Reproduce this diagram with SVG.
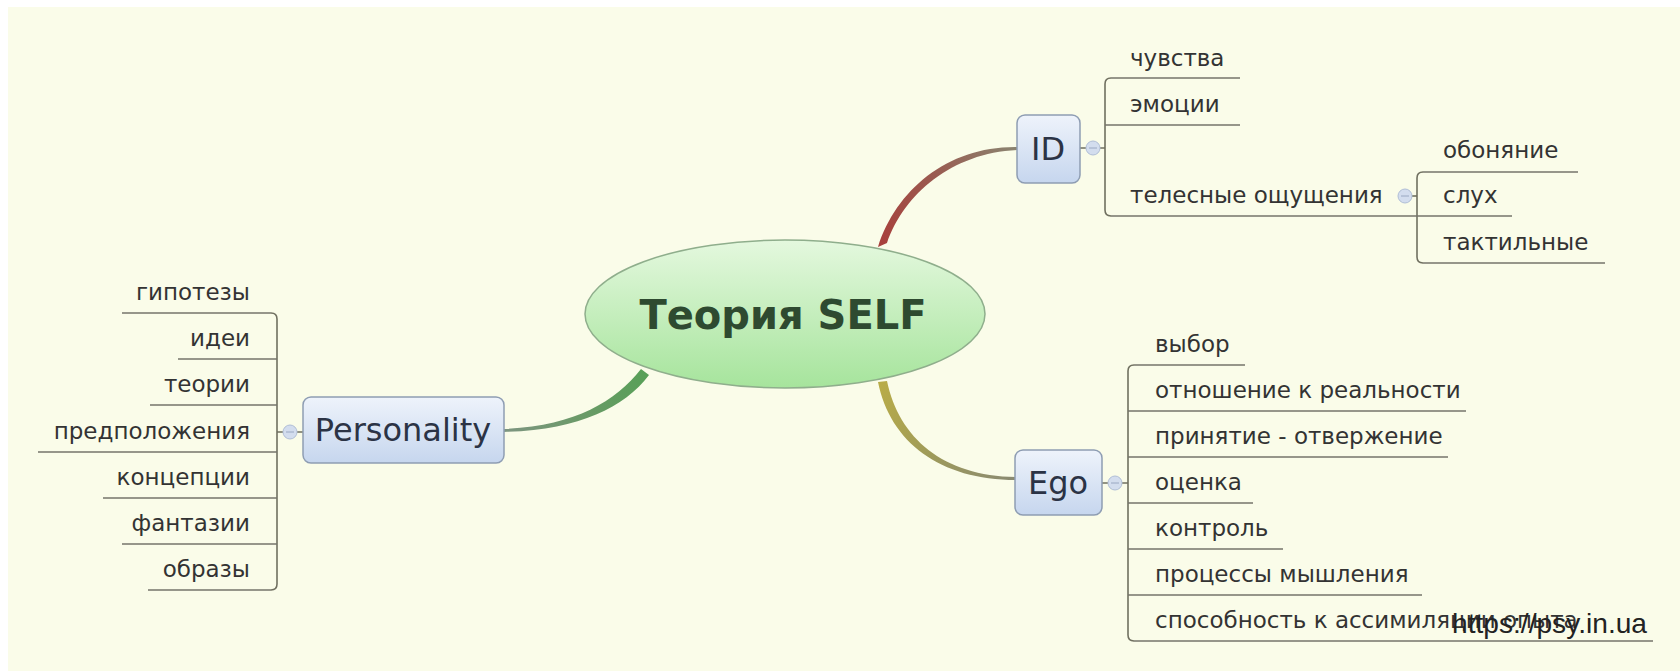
<svg xmlns="http://www.w3.org/2000/svg" width="1680" height="671" viewBox="0 0 1680 671">
<defs>
<linearGradient id="gBlue" x1="0" y1="0" x2="0" y2="1">
<stop offset="0" stop-color="#eef3fb"/>
<stop offset="1" stop-color="#c6d6ee"/>
</linearGradient>
<linearGradient id="gGreen" x1="0" y1="0" x2="0" y2="1">
<stop offset="0" stop-color="#e4f8de"/>
<stop offset="1" stop-color="#a6e49c"/>
</linearGradient>
<linearGradient id="gRed" gradientUnits="userSpaceOnUse" x1="882" y1="245" x2="1017" y2="148">
<stop offset="0" stop-color="#a8403c"/>
<stop offset="0.5" stop-color="#9a5a50"/>
<stop offset="1" stop-color="#8a8470"/>
</linearGradient>
<linearGradient id="gOlive" gradientUnits="userSpaceOnUse" x1="882" y1="383" x2="1016" y2="478">
<stop offset="0" stop-color="#b8ac48"/>
<stop offset="0.5" stop-color="#9e9a5a"/>
<stop offset="1" stop-color="#8a8a72"/>
</linearGradient>
<linearGradient id="gGreenC" gradientUnits="userSpaceOnUse" x1="645" y1="372" x2="504" y2="430">
<stop offset="0" stop-color="#58a058"/>
<stop offset="0.5" stop-color="#6a9a68"/>
<stop offset="1" stop-color="#7d9580"/>
</linearGradient>
</defs>
<style>
.t{font-family:"DejaVu Sans",sans-serif;font-size:23px;fill:#333333}
.te{text-anchor:end}
.box{fill:url(#gBlue);stroke:#8e9db3;stroke-width:1.5}
.nt{font-family:"DejaVu Sans",sans-serif;font-size:32px;fill:#2b3345;text-anchor:middle}
.br{fill:none;stroke:#707060;stroke-width:1.6}
.ul{fill:none;stroke:#74746a;stroke-width:1.6}
.col{fill:#d3ddee;stroke:#b0bed6;stroke-width:1}
.colm{stroke:#9aa8c2;stroke-width:1}
</style>
<rect x="0" y="0" width="1680" height="671" fill="#ffffff"/>
<rect x="8" y="7" width="1672" height="664" fill="#fafce9"/>

<g id="connectors">
<path d="M878,247 C896,190 948,146 1017,147 L1017,150 C952,153 904,194 887,243 Z" fill="url(#gRed)"/>
<path d="M878,382 C890,442 940,480 1016,480 L1016,477 C943,476 899,438 887,381 Z" fill="url(#gOlive)"/>
<path d="M641,369 C615,402 574,426 504,429 L504,432 C578,430 624,408 649,375 Z" fill="url(#gGreenC)"/>
<!-- ID bracket -->
<path class="br" d="M1080,148 H1086 M1100,148 H1105"/>
<path class="br" d="M1111,78 Q1105,78 1105,84 V210 Q1105,216 1111,216"/>
<!-- sub bracket -->
<path class="br" d="M1412,196 H1417"/>
<path class="br" d="M1423,172 Q1417,172 1417,178 V257 Q1417,263 1423,263"/>
<!-- Ego bracket -->
<path class="br" d="M1102,483 H1108 M1122,483 H1128"/>
<path class="br" d="M1134,365 Q1128,365 1128,371 V635 Q1128,641 1134,641"/>
<!-- Personality bracket -->
<path class="br" d="M303,432 H297 M283,432 H277"/>
<path class="br" d="M271,313 Q277,313 277,319 V584 Q277,590 271,590"/>
</g>

<g id="center">
<ellipse cx="785" cy="314" rx="200" ry="74" fill="url(#gGreen)" stroke="#8fae8c" stroke-width="1.5"/>
<text x="783" y="329" text-anchor="middle" font-family="DejaVu Sans, sans-serif" font-weight="bold" font-size="40" fill="#2e4a30">Теория SELF</text>
</g>

<g id="node-id">
<rect class="box" x="1017" y="115" width="63" height="68" rx="8"/>
<text class="nt" x="1048" y="160">ID</text>
<circle class="col" cx="1093" cy="148" r="7"/>
<path class="colm" d="M1089,148 H1097"/>
</g>

<g id="node-ego">
<rect class="box" x="1015" y="450" width="87" height="65" rx="8"/>
<text class="nt" x="1058" y="494">Ego</text>
<circle class="col" cx="1115" cy="483" r="7"/>
<path class="colm" d="M1111,483 H1119"/>
</g>

<g id="node-personality">
<rect class="box" x="303" y="397" width="201" height="66" rx="8"/>
<text class="nt" x="403" y="441" font-size="30">Personality</text>
<circle class="col" cx="290" cy="432" r="7"/>
<path class="colm" d="M286,432 H294"/>
</g>

<!-- ID children -->
<g id="id-chuvstva"><text class="t" x="1130" y="66">чувства</text><path class="ul" d="M1111,78 H1240"/></g>
<g id="id-emocii"><text class="t" x="1130" y="112">эмоции</text><path class="ul" d="M1105,125 H1240"/></g>
<g id="id-telesnye"><text class="t" x="1130" y="203">телесные ощущения</text><path class="ul" d="M1111,216 H1512"/>
<circle class="col" cx="1405" cy="196" r="7"/><path class="colm" d="M1401,196 H1409"/></g>
<g id="sub-obonyanie"><text class="t" x="1443" y="158">обоняние</text><path class="ul" d="M1423,172 H1578"/></g>
<g id="sub-sluh"><text class="t" x="1443" y="203">слух</text></g>
<g id="sub-taktilnye"><text class="t" x="1443" y="250">тактильные</text><path class="ul" d="M1423,263 H1605"/></g>

<!-- Ego children -->
<g id="ego-1"><text class="t" x="1155" y="352">выбор</text><path class="ul" d="M1134,365 H1245"/></g>
<g id="ego-2"><text class="t" x="1155" y="398">отношение к реальности</text><path class="ul" d="M1128,411 H1466"/></g>
<g id="ego-3"><text class="t" x="1155" y="444">принятие - отвержение</text><path class="ul" d="M1128,457 H1448"/></g>
<g id="ego-4"><text class="t" x="1155" y="490">оценка</text><path class="ul" d="M1128,503 H1253"/></g>
<g id="ego-5"><text class="t" x="1155" y="536">контроль</text><path class="ul" d="M1128,549 H1283"/></g>
<g id="ego-6"><text class="t" x="1155" y="582">процессы мышления</text><path class="ul" d="M1128,595 H1422"/></g>
<g id="ego-7"><text class="t" x="1155" y="628">способность к ассимиляции опыта</text><path class="ul" d="M1134,641 H1653"/></g>

<!-- Personality children -->
<g id="p-1"><text class="t te" x="250" y="300">гипотезы</text><path class="ul" d="M122,313 H271"/></g>
<g id="p-2"><text class="t te" x="250" y="346">идеи</text><path class="ul" d="M178,359 H277"/></g>
<g id="p-3"><text class="t te" x="250" y="392">теории</text><path class="ul" d="M150,405 H277"/></g>
<g id="p-4"><text class="t te" x="250" y="439">предположения</text><path class="ul" d="M38,452 H277"/></g>
<g id="p-5"><text class="t te" x="250" y="485">концепции</text><path class="ul" d="M103,498 H277"/></g>
<g id="p-6"><text class="t te" x="250" y="531">фантазии</text><path class="ul" d="M122,544 H277"/></g>
<g id="p-7"><text class="t te" x="250" y="577">образы</text><path class="ul" d="M148,590 H271"/></g>

<g id="watermark">
<text x="1452" y="633" font-family="Liberation Sans, Arial, sans-serif" font-size="28" fill="#222222" textLength="195" lengthAdjust="spacingAndGlyphs">https://psy.in.ua</text>
</g>
</svg>
